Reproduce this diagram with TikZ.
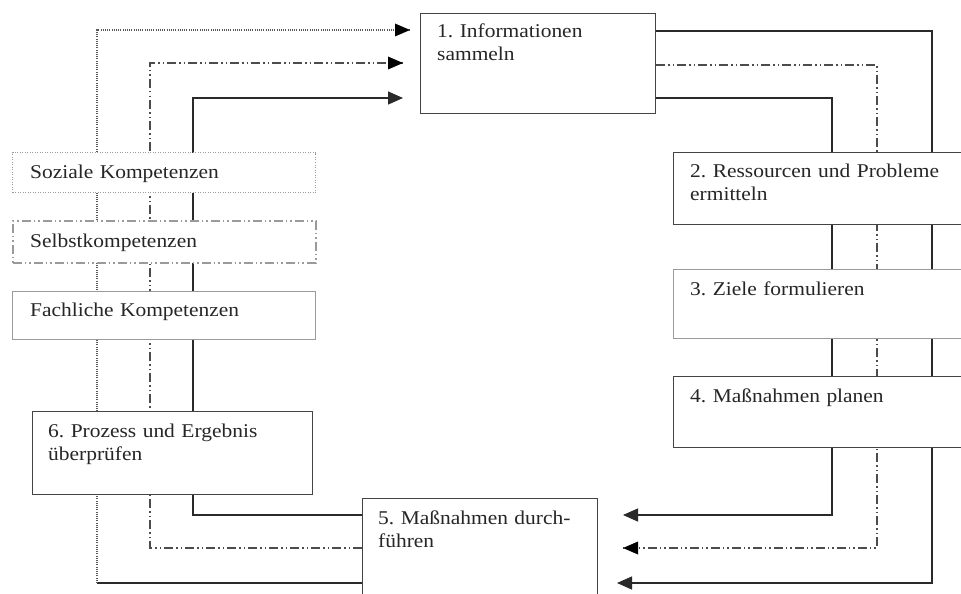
\documentclass[tikz,border=0pt]{standalone}
\usepackage{fontspec}
\setmainfont{Liberation Serif}[FakeStretch=1.1]
\frenchspacing
\usetikzlibrary{arrows.meta}
\pgfdeclarelayer{bg}
\pgfsetlayers{bg,main}
\definecolor{lineclr}{HTML}{2A2A2A}
\definecolor{boxclr}{HTML}{444444}
\definecolor{lightclr}{HTML}{9A9A9A}
\begin{document}
\begin{tikzpicture}[x=1pt,y=-1pt,
  box/.style={draw=#1, line width=1.3pt, fill=white, anchor=north west, inner sep=0pt},
  lbl/.style={anchor=base west, inner sep=0pt, text width=300pt, align=left,
    font=\fontsize{19.5}{23}\selectfont\frenchspacing, text=black!85},
  solidln/.style={draw=lineclr, line width=1.3pt},
  dotln/.style={draw=black!65, line width=1.1pt, dash pattern=on 1pt off 1.2pt},
  dashdotln/.style={draw=black!70, line width=1.3pt, dash pattern=on 9pt off 3pt on 1.5pt off 3pt on 1.5pt off 3pt},
  tip/.style={-{Triangle[length=15pt,width=13pt]}},
]
\useasboundingbox (0,0) rectangle (961,594);
\clip (0,0) rectangle (961,594);

% boxes
\node[box=boxclr, minimum width=235pt, minimum height=100pt] (b1) at (420,13) {};
\node[box=boxclr, minimum width=320pt, minimum height=72pt] (b2) at (673,152) {};
\node[box=lightclr, minimum width=320pt, minimum height=69pt] (b3) at (673,269) {};
\node[box=boxclr, minimum width=320pt, minimum height=71pt] (b4) at (673,376) {};
\node[box=boxclr, minimum width=235pt, minimum height=110pt] (b5) at (362,498) {};
\node[box=boxclr, minimum width=280pt, minimum height=83pt] (b6) at (32,411) {};
\node[box=lightclr, line width=1pt, dash pattern=on 1pt off 1.5pt, minimum width=303pt, minimum height=40pt] (k1) at (12,152) {};
\node[box=lightclr, line width=1.5pt, dash pattern=on 9pt off 3pt on 1.5pt off 3pt on 1.5pt off 3pt, minimum width=303pt, minimum height=42pt] (k2) at (12,220) {};
\node[box=lightclr, minimum width=303pt, minimum height=48pt] (k3) at (12,291) {};

% labels
\node[lbl] (t1) at ([shift={(17,25)}]b1.north west) {1. Informationen\\sammeln};
\node[lbl] (t2) at ([shift={(17,25)}]b2.north west) {2. Ressourcen und Probleme\\ermitteln};
\node[lbl] (t3) at ([shift={(17,26)}]b3.north west) {3. Ziele formulieren};
\node[lbl] (t4) at ([shift={(17,26)}]b4.north west) {4. Maßnahmen planen};
\node[lbl] (t5) at ([shift={(16,26)}]b5.north west) {5. Maßnahmen durch-\\führen};
\node[lbl] (t6) at ([shift={(16,26)}]b6.north west) {6. Prozess und Ergebnis\\überprüfen};
\node[lbl] (tk1) at ([shift={(18,26)}]k1.north west) {Soziale Kompetenzen};
\node[lbl] (tk2) at ([shift={(18,27)}]k2.north west) {Selbstkompetenzen};
\node[lbl] (tk3) at ([shift={(18,25)}]k3.north west) {Fachliche Kompetenzen};

% corner / end coordinates
\coordinate (cL1) at (97,583);
\coordinate (cL2) at (150,548);
\coordinate (cL3) at (193,515);
\coordinate (aT1) at (410,30);
\coordinate (aT2) at (403,63);
\coordinate (aT3) at (403,98);
\coordinate (cR1) at (932,31);
\coordinate (cR2) at (877,65);
\coordinate (cR3) at (832,98);
\coordinate (aB1) at (617,583);
\coordinate (aB2) at (623,548);
\coordinate (aB3) at (623,515);

\begin{pgfonlayer}{bg}
% left loops (into box 1)
\draw[solidln] (b5.west |- cL1) -- (cL1);
\draw[dotln] (cL1) |- (aT1);
\fill[black] (aT1) ++(-15,-6.5) -- (aT1) -- ++(-15,6.5) -- cycle;
\draw[dashdotln] (b5.west |- cL2) -- (cL2) |- (aT2);
\fill[black] (aT2) ++(-15,-6.5) -- (aT2) -- ++(-15,6.5) -- cycle;
\draw[solidln, tip] (b5.west |- cL3) -- (cL3) |- (aT3);
% right loops (into box 5)
\draw[solidln, tip] (b1.east |- cR1) -- (cR1) |- (aB1);
\draw[dashdotln] (b1.east |- cR2) -- (cR2) |- (aB2);
\fill[black] (aB2) ++(15,-6.5) -- (aB2) -- ++(15,6.5) -- cycle;
\draw[solidln, tip] (b1.east |- cR3) -- (cR3) |- (aB3);
\end{pgfonlayer}
\end{tikzpicture}
\end{document}
